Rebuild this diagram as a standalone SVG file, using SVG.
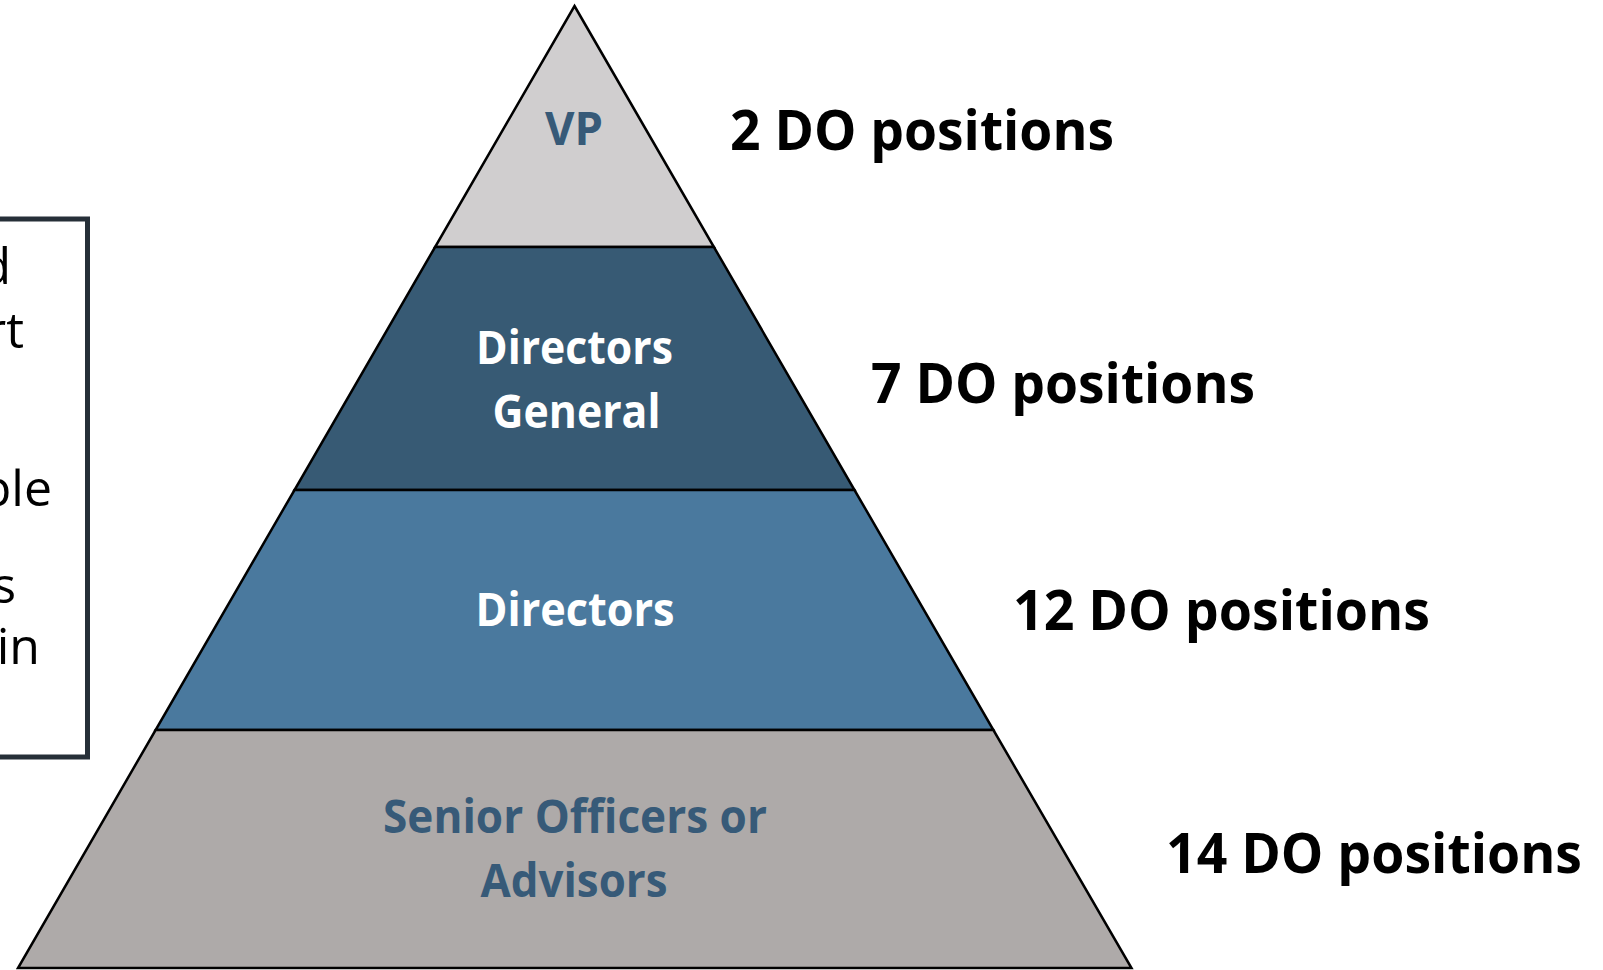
<svg xmlns="http://www.w3.org/2000/svg" width="1603" height="970" viewBox="0 0 1603 970">
<style>
  .band { stroke: #000000; stroke-width: 2.5; stroke-linejoin: miter; }
  .lbl { font-family: "Open Sans", "Noto Sans", sans-serif; font-weight: 700; font-size: 47px; text-anchor: middle; }
  .blue { fill: #375a78; }
  .white { fill: #ffffff; }
  .count { font-family: "Open Sans", "Noto Sans", sans-serif; font-weight: 700; font-size: 56px; fill: #000000; }
  .note { font-family: "Open Sans", "Noto Sans", sans-serif; font-size: 50px; fill: #000000; text-anchor: end; }
</style>
<rect x="0" y="0" width="1603" height="970" fill="#ffffff"/>

<g id="note-box">
  <rect x="-400" y="219" width="487.5" height="538" fill="#ffffff" stroke="#262f38" stroke-width="5"/>
  <text class="note" x="11" y="284">d</text>
  <text class="note" x="24" y="348">rt</text>
  <text class="note" x="52" y="506">ble</text>
  <text class="note" x="16" y="603">s</text>
  <text class="note" x="40" y="664">in</text>
</g>

<g id="tier-vp">
  <polygon class="band" points="574.5,6 713.9,247 435.1,247" fill="#d0cecf"/>
  <text class="lbl blue" x="574" y="145" textLength="58" lengthAdjust="spacingAndGlyphs">VP</text>
</g>

<g id="tier-dg">
  <polygon class="band" points="435.1,247 713.9,247 854.5,490 294.5,490" fill="#375a74"/>
  <text class="lbl white" x="574.5" y="364" textLength="197" lengthAdjust="spacingAndGlyphs">Directors</text>
  <text class="lbl white" x="576.5" y="428" textLength="168" lengthAdjust="spacingAndGlyphs">General</text>
</g>

<g id="tier-directors">
  <polygon class="band" points="294.5,490 854.5,490 993.4,730 155.6,730" fill="#4a799e"/>
  <text class="lbl white" x="575" y="626" textLength="199" lengthAdjust="spacingAndGlyphs">Directors</text>
</g>

<g id="tier-senior">
  <polygon class="band" points="155.6,730 993.4,730 1131.5,968 18,968" fill="#aeaaa9"/>
  <text class="lbl blue" x="575" y="833" textLength="384" lengthAdjust="spacingAndGlyphs">Senior Officers or</text>
  <text class="lbl blue" x="574" y="897" textLength="187" lengthAdjust="spacingAndGlyphs">Advisors</text>
</g>

<g id="counts">
  <text class="count" x="730" y="150" textLength="384" lengthAdjust="spacingAndGlyphs">2 DO positions</text>
  <text class="count" x="871" y="403" textLength="384" lengthAdjust="spacingAndGlyphs">7 DO positions</text>
  <text class="count" x="1013" y="630" textLength="417" lengthAdjust="spacingAndGlyphs">12 DO positions</text>
  <text class="count" x="1166" y="873" textLength="416" lengthAdjust="spacingAndGlyphs">14 DO positions</text>
</g>

<g id="connectors"></g>
</svg>
